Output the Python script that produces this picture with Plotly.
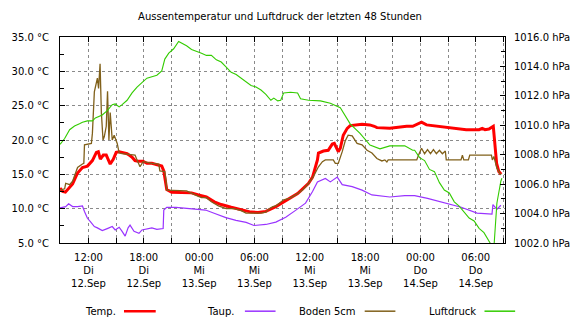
import pandas as pd
import plotly.graph_objects as go

# ---- data (hours since 12.09.2023 09:00) ----
temp_h = [-0.08, 0.2, 0.5, 0.74, 1.28, 1.82, 2.35, 2.89, 3.43, 3.86, 4.07, 4.29, 4.61, 4.93, 5.15, 5.36,
          5.69, 6.01, 6.33, 6.65, 7.19, 7.41, 7.73, 8.05, 8.37, 8.91, 9.34, 9.88, 10.42, 10.95, 11.17,
          11.38, 11.49, 12.03, 13.10, 14.18, 14.93, 15.79, 16.65, 17.40, 18.48, 19.56, 20.63, 21.38,
          22.24, 23.32, 24.39, 25.68, 26.00, 26.87, 27.30, 27.62, 27.83, 27.94, 28.48, 29.00, 29.44,
          29.66, 30.09, 30.31, 30.63, 31.06, 31.38, 32.67, 33.50, 34.00, 34.28, 35.68, 36.22, 37.51,
          38.16, 39.12, 39.66, 41.06, 42.45, 43.96, 45.36, 45.70, 46.00, 46.43, 46.90, 47.08, 47.26,
          47.50, 47.75]
temp = [13.0, 12.5, 12.4, 12.8, 13.6, 15.2, 16.0, 16.2, 17.0, 18.2, 18.3, 17.2, 17.8, 17.8, 17.0, 16.5,
        17.2, 18.2, 18.3, 18.2, 18.0, 17.8, 17.5, 17.0, 16.9, 16.9, 16.6, 16.6, 16.4, 16.2, 15.5,
        13.5, 12.8, 12.4, 12.4, 12.3, 12.0, 11.7, 11.0, 10.6, 10.2, 9.8, 9.5, 9.45,
        9.6, 10.3, 11.2, 12.2, 12.6, 13.7, 14.6, 15.9, 17.1, 18.1, 18.4, 18.5, 19.4,
        19.5, 18.3, 18.8, 20.7, 21.7, 22.1, 22.3, 22.2, 22.0, 21.8, 21.7, 21.8, 22.0,
        22.0, 22.6, 22.2, 22.0, 21.8, 21.5, 21.5, 21.7, 21.5, 21.6, 22.0, 18.8, 16.6,
        15.4, 15.0]

taup_h = [-0.08, 0.53, 0.85, 1.28, 1.82, 2.35, 2.57, 2.89, 3.21, 3.64, 3.97, 4.50, 5.04, 5.58, 5.90,
          6.33, 6.65, 6.98, 7.30, 7.51, 7.94, 8.48, 8.80, 9.34, 9.88, 10.42, 10.95, 11.10, 11.17,
          11.49, 12.50, 14.60, 15.70, 16.70, 17.90, 19.00, 20.10, 20.95, 21.50, 22.24, 23.32, 24.39,
          25.46, 26.54, 27.30, 27.83, 28.69, 29.23, 29.98, 30.52, 31.60, 32.67, 33.74, 34.82, 35.68,
          37.30, 38.37, 39.77, 41.59, 43.42, 45.14, 46.76, 46.86, 47.29, 47.72]
taup = [10.1, 10.3, 10.7, 10.3, 10.3, 10.4, 9.6, 8.6, 8.1, 7.4, 7.2, 6.8, 7.1, 7.4, 6.9,
        7.3, 6.7, 6.0, 7.2, 7.6, 6.7, 6.4, 6.9, 7.0, 7.2, 7.0, 7.0, 7.1, 9.8,
        10.2, 10.2, 10.0, 9.8, 9.3, 8.7, 8.3, 8.0, 7.55, 7.6, 7.7, 8.05, 8.75,
        9.75, 10.8, 12.5, 13.9, 14.4, 13.9, 14.6, 13.5, 13.2, 12.7, 12.0, 11.85, 11.7,
        11.9, 11.9, 11.5, 10.8, 10.2, 9.35, 9.2, 10.6, 9.9, 10.5]

boden_h = [-0.08, 0.42, 0.53, 0.96, 1.28, 1.82, 2.35, 2.50, 2.57, 3.32, 3.43, 3.64, 3.97, 4.10, 4.26,
           4.40, 4.58, 4.72, 4.93, 5.07, 5.22, 5.36, 5.58, 5.79, 6.12, 6.33, 6.65, 7.50, 8.05, 8.27,
           8.59, 8.91, 9.13, 9.88, 10.63, 10.74, 11.28, 11.42, 11.49, 13.64, 14.20, 14.93, 15.26,
           15.79, 16.33, 16.65, 17.10, 17.94, 18.80, 19.56, 20.09, 21.00, 21.71, 22.24, 22.60, 23.00,
           23.32, 24.17, 24.80, 25.46, 26.22, 26.87, 27.40, 27.94, 28.37, 28.69, 29.55, 29.77, 30.09,
           30.52, 30.84, 31.16, 31.60, 32.13, 32.67, 33.21, 33.74, 34.28, 34.82, 35.14, 35.36, 35.50,
           38.60, 38.80, 39.12, 39.45, 39.77, 40.09, 40.41, 40.73, 41.06, 41.38, 41.70, 41.80, 43.40,
           43.55, 43.70, 44.20, 44.35, 46.70, 46.80, 46.97, 47.29, 47.72]
boden = [12.7, 12.9, 13.7, 13.5, 14.0, 16.0, 16.5, 16.6, 19.3, 19.5, 21.0, 27.0, 29.0, 27.5, 31.1,
         24.0, 20.0, 20.5, 22.0, 27.1, 20.0, 24.0, 20.0, 20.7, 19.5, 18.1, 18.0, 17.9, 17.8, 17.1,
         16.1, 16.8, 16.8, 16.6, 16.5, 15.5, 15.4, 14.0, 12.7, 12.6, 12.3, 11.8, 11.6,
         11.6, 11.0, 10.8, 10.4, 10.0, 10.0, 9.7, 9.35, 9.35, 9.35, 9.5, 10.0, 10.3,
         10.4, 11.3, 11.5, 12.0, 12.7, 13.7, 14.7, 16.1, 16.85, 17.1, 17.1, 16.6, 16.6,
         18.3, 19.85, 20.7, 20.6, 19.5, 19.3, 18.5, 18.1, 17.3, 16.95, 17.1, 16.8, 17.1,
         17.1, 17.8, 18.8, 18.0, 18.6, 18.0, 18.6, 18.0, 18.5, 18.0, 18.4, 17.1, 17.1,
         17.8, 17.1, 17.1, 17.8, 17.8, 17.1, 17.6, 15.9, 14.9]

druck_h = [-0.08, 0.42, 0.96, 1.49, 2.03, 2.35, 2.89, 3.43, 3.75, 4.18, 4.50, 5.04, 5.58, 5.90, 6.33,
           6.65, 7.19, 7.73, 8.27, 8.80, 9.34, 9.88, 10.42, 10.95, 11.28, 11.71, 12.24, 12.78, 13.10,
           13.64, 14.18, 14.93, 15.26, 15.79, 16.33, 16.87, 17.40, 17.94, 18.48, 19.02, 19.56, 20.09,
           20.63, 21.17, 21.71, 22.24, 22.78, 23.10, 23.53, 23.85, 24.17, 24.92, 25.68, 26.00, 26.87,
           28.16, 29.23, 30.31, 30.84, 31.38, 32.45, 33.53, 34.61, 35.68, 36.76, 37.30, 38.16, 38.37,
           38.91, 39.45, 39.98, 40.52, 41.06, 41.59, 42.13, 42.67, 43.20, 43.74, 44.28, 44.82, 45.36,
           45.89, 46.43, 46.65, 46.76, 46.86, 47.00, 47.29, 47.72, 47.83]
druck = [1008.7, 1009.1, 1009.7, 1009.95, 1010.1, 1010.2, 1010.3, 1010.3, 1010.5, 1010.6, 1010.7, 1011.0, 1011.4, 1011.45, 1011.25,
         1011.4, 1011.7, 1012.2, 1012.6, 1012.9, 1013.2, 1013.3, 1013.4, 1013.7, 1014.5, 1014.9, 1015.2, 1015.7, 1015.6,
         1015.4, 1015.15, 1015.0, 1014.9, 1014.75, 1014.75, 1014.45, 1014.3, 1013.95, 1013.6, 1013.45, 1013.2, 1012.95,
         1012.7, 1012.6, 1012.4, 1012.1, 1011.7, 1011.85, 1011.66, 1011.7, 1012.2, 1012.25, 1012.2, 1011.8, 1011.7,
         1011.66, 1011.5, 1011.2, 1010.7, 1010.1, 1009.45, 1008.66, 1008.4, 1008.6, 1008.6, 1008.6, 1008.3, 1008.3,
         1007.8, 1007.6, 1007.0, 1006.85, 1006.1, 1005.6, 1005.4, 1004.8, 1004.5, 1004.1, 1003.7, 1003.5, 1003.0,
         1002.7, 1002.2, 1001.9, 1001.5, 1001.5, 1002.0, 1004.7, 1006.2, 1006.4]

tick_h = [3, 6, 9, 12, 15, 18, 21, 24, 27, 30, 33, 36, 39, 42, 45, 48]
tick_text = ["12:00<br>Di<br>12.Sep", "", "18:00<br>Di<br>12.Sep", "", "00:00<br>Mi<br>13.Sep", "",
             "06:00<br>Mi<br>13.Sep", "", "12:00<br>Mi<br>13.Sep", "", "18:00<br>Mi<br>13.Sep", "",
             "00:00<br>Do<br>14.Sep", "", "06:00<br>Do<br>14.Sep", ""]

temp_ticks = [5, 10, 15, 20, 25, 30, 35]
druck_ticks = [1002, 1004, 1006, 1008, 1010, 1012, 1014, 1016]

legend_names = ["Temp.", "Taup.", "Boden 5cm", "Luftdruck"]
colors = ["#ff0000", "#9933ff", "#80601a", "#33cc00"]

# ---- build ----
start = pd.Timestamp("2023-09-12 09:00")
def to_dt(h):
    return start + pd.to_timedelta(pd.Series(h), unit="h")

FONT = "DejaVu Sans"
fig = go.Figure()
fig.add_trace(go.Scatter(x=to_dt(temp_h), y=temp, mode="lines", line=dict(color=colors[0], width=3),
                         name=legend_names[0]))
fig.add_trace(go.Scatter(x=to_dt(taup_h), y=taup, mode="lines", line=dict(color=colors[1], width=1.2),
                         name=legend_names[1]))
fig.add_trace(go.Scatter(x=to_dt(boden_h), y=boden, mode="lines", line=dict(color=colors[2], width=1.3),
                         name=legend_names[2]))
fig.add_trace(go.Scatter(x=to_dt(druck_h), y=druck, mode="lines", line=dict(color=colors[3], width=1.1),
                         name=legend_names[3], yaxis="y2"))

fig.update_layout(
    width=582, height=323,
    margin=dict(l=57, r=76, t=37, b=80),
    paper_bgcolor="white", plot_bgcolor="white",
    showlegend=False,
    font=dict(family=FONT, size=10, color="black"),
    title=dict(text="Aussentemperatur und Luftdruck der letzten 48 Stunden",
               x=280 / 582, xanchor="center", xref="container",
               y=1 - 16 / 323, yanchor="middle", yref="container",
               font=dict(family=FONT, size=10, color="black")),
    xaxis=dict(
        type="date",
        range=[start + pd.Timedelta(hours=-0.085), start + pd.Timedelta(hours=48.17)],
        tickvals=list(to_dt(tick_h)), ticktext=tick_text,
        ticks="inside", ticklen=5, tickcolor="black",
        showline=True, linecolor="black", linewidth=1, mirror="ticks",
        showgrid=True, gridcolor="#8a8a8a", griddash="dot", gridwidth=1,
        zeroline=False, ticklabelstandoff=5,
        tickfont=dict(family=FONT, size=10, color="black"),
    ),
    yaxis=dict(
        range=[5, 35], tickvals=temp_ticks, ticktext=[f"{v:.1f} °C" for v in temp_ticks],
        ticks="inside", ticklen=5, tickcolor="black",
        minor=dict(dtick=2.5, tick0=5, ticks="inside", ticklen=4, tickcolor="black", showgrid=False),
        showline=True, linecolor="black", linewidth=1,
        showgrid=True, gridcolor="#8a8a8a", griddash="dot", gridwidth=1,
        zeroline=False, ticklabelstandoff=8,
        tickfont=dict(family=FONT, size=10, color="black"),
    ),
    yaxis2=dict(
        range=[1002, 1016], overlaying="y", side="right",
        tickvals=druck_ticks, ticktext=[f"{v:.1f} hPa" for v in druck_ticks],
        ticks="inside", ticklen=5, tickcolor="black",
        minor=dict(dtick=1, tick0=1002, ticks="inside", ticklen=4, tickcolor="black", showgrid=False),
        showline=True, linecolor="black", linewidth=1,
        showgrid=False, zeroline=False, ticklabelstandoff=6,
        tickfont=dict(family=FONT, size=10, color="black"),
    ),
)

# custom legend (text left of line), positions in paper fractions of the plot area
leg_y = -0.331
leg_text_x = [0.0527, 0.3265, 0.533, 0.8249]
leg_line_x = [(0.1438, 0.2151), (0.4155, 0.4844), (0.6847, 0.7537), (0.9539, 1.0228)]
leg_w = [2.5, 1.5, 1.5, 1.5]
for name, col, tx, (x0, x1), w in zip(legend_names, colors, leg_text_x, leg_line_x, leg_w):
    fig.add_annotation(x=tx, y=leg_y, xref="paper", yref="paper", text=name, showarrow=False,
                       xanchor="left", yanchor="middle", font=dict(family=FONT, size=10, color="black"))
    fig.add_shape(type="line", xref="paper", yref="paper", x0=x0, x1=x1, y0=leg_y, y1=leg_y,
                  line=dict(color=col, width=w))

fig.write_html("out.html")
